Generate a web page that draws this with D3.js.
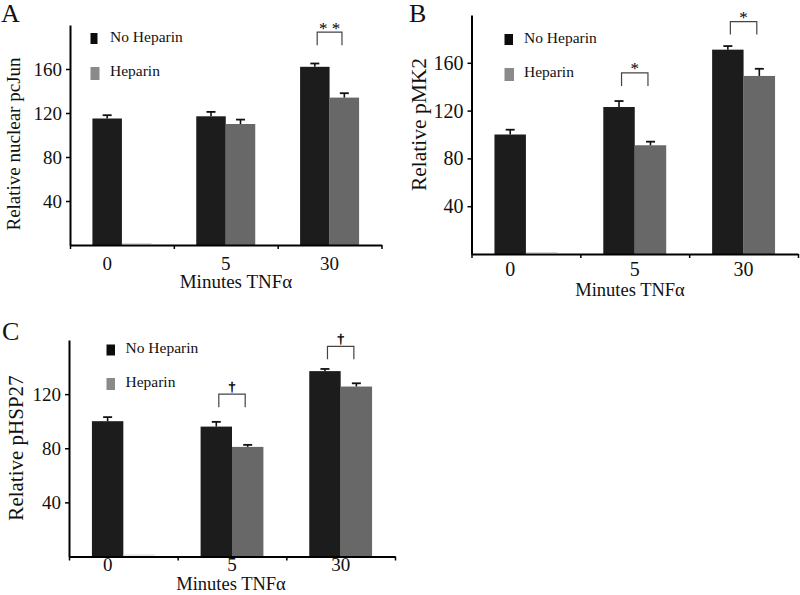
<!DOCTYPE html>
<html>
<head>
<meta charset="utf-8">
<script src="https://cdn.jsdelivr.net/npm/d3@7"></script>
<style>
  html, body { margin: 0; padding: 0; background: #fff; }
  svg { display: block; }
  text { font-family: "Liberation Serif", "Times New Roman", serif; fill: #111; }
</style>
</head>
<body>
<svg id="chart" width="800" height="595"></svg>
<script>
// ---------- data ----------
const categories = ["0", "5", "30"];
const seriesNames = ["No Heparin", "Heparin"];

// Panel A: Relative nuclear pcJun
const aNoHeparin = [115, 117, 162];
const aNoHeparinErr = [3, 4, 3];
const aHeparin = [null, 110, 134];
const aHeparinErr = [null, 4, 4];
const aSig = [{cat: "30", symbol: "* *", top: 193.5}];

// Panel B: Relative pMK2
const bNoHeparin = [100, 123, 171];
const bNoHeparinErr = [4, 5, 3];
const bHeparin = [null, 91, 149];
const bHeparinErr = [null, 3, 6];
const bSig = [{cat: "5", symbol: "*", top: 151.5}, {cat: "30", symbol: "*", top: 194.5}];

// Panel C: Relative pHSP27
const cNoHeparin = [100, 96, 137];
const cNoHeparinErr = [3, 3.5, 1.6];
const cHeparin = [null, 81, 125.6];
const cHeparinErr = [null, 1.5, 2.4];
const cSig = [{cat: "5", symbol: "†", top: 120}, {cat: "30", symbol: "†", top: 155.3}];

const yTicksAB = [40, 80, 120, 160];
const yTicksC = [40, 80, 120];

// ---------- layout ----------
const panels = [
  { letter: "A", ylabel: "Relative nuclear pcJun", yMax: 200, ticks: yTicksAB,
    no: aNoHeparin, noErr: aNoHeparinErr, hep: aHeparin, hepErr: aHeparinErr, sig: aSig,
    x0: 70, x1: 381.5, yBase: 245, yTop: 25, pad: 0.76,
    letterPos: [1, 22], ylabPos: [20, 144], ylabSize: 19, tickSize: 19,
    xlabBase: 270, xtitle: [236, 288], xtitleSize: 19,
    legX: 90.5, legText: 110, legY1: 33, legY2: 67, legSq: [7, 11, 9, 13] },
  { letter: "B", ylabel: "Relative pMK2", yMax: 200, ticks: yTicksAB,
    no: bNoHeparin, noErr: bNoHeparinErr, hep: bHeparin, hepErr: bHeparinErr, sig: bSig,
    x0: 471.5, x1: 798, yBase: 254, yTop: 15, pad: 0.73,
    letterPos: [409, 22], ylabPos: [426, 124.5], ylabSize: 21.5, tickSize: 20,
    xlabBase: 276, xtitle: [630, 296], xtitleSize: 18.5,
    legX: 504.5, legText: 524, legY1: 34, legY2: 68, legSq: [8.5, 11, 9.5, 13] },
  { letter: "C", ylabel: "Relative pHSP27", yMax: 160, ticks: yTicksC,
    no: cNoHeparin, noErr: cNoHeparinErr, hep: cHeparin, hepErr: cHeparinErr, sig: cSig,
    x0: 69, x1: 395, yBase: 556.5, yTop: 340, pad: 0.73,
    letterPos: [2, 340], ylabPos: [22.5, 448], ylabSize: 21, tickSize: 19,
    xlabBase: 571, xtitle: [231, 590], xtitleSize: 18.5,
    legX: 106.5, legText: 125.5, legY1: 344.5, legY2: 378, legSq: [8.5, 11, 8.5, 12] }
];

const BLACK = "#1c1c1c", GRAY = "#686868";
const LEG_BLACK = "#0c0c0c", LEG_GRAY = "#8a8a8a";

const svg = d3.select("#chart");

panels.forEach(p => {
  const g = svg.append("g");
  const xBand = d3.scaleBand().domain(categories).range([p.x0, p.x1]).padding(0);
  const xSub = d3.scaleBand().domain(seriesNames).range([0, xBand.bandwidth()])
    .paddingInner(0).paddingOuter(p.pad);
  const y = d3.scaleLinear().domain([0, p.yMax]).range([p.yBase, p.yTop]);

  const rows = categories.map((c, i) => ({
    cat: c,
    vals: [
      {s: seriesNames[0], v: p.no[i], e: p.noErr[i]},
      {s: seriesNames[1], v: p.hep[i], e: p.hepErr[i]}
    ]
  }));

  // bars
  rows.forEach(r => {
    r.vals.forEach(d => {
      const bx = xBand(r.cat) + xSub(d.s);
      const bw = xSub.bandwidth();
      if (d.v == null) {
        g.append("line")
          .attr("x1", bx).attr("x2", bx + bw)
          .attr("y1", y(0) - 1.5).attr("y2", y(0) - 1.5)
          .attr("stroke", "#d6d6d6").attr("stroke-width", 1);
        return;
      }
      g.append("rect")
        .attr("x", bx).attr("y", y(d.v))
        .attr("width", bw).attr("height", y(0) - y(d.v))
        .attr("fill", d.s === seriesNames[0] ? BLACK : GRAY);
      // error bar (upper half)
      const cx = bx + bw / 2;
      g.append("line")
        .attr("x1", cx).attr("x2", cx)
        .attr("y1", y(d.v)).attr("y2", y(d.v + d.e))
        .attr("stroke", "#111").attr("stroke-width", 1.6);
      g.append("line")
        .attr("x1", cx - 4.5).attr("x2", cx + 4.5)
        .attr("y1", y(d.v + d.e)).attr("y2", y(d.v + d.e))
        .attr("stroke", "#111").attr("stroke-width", 1.8);
    });
  });

  // y axis
  const yAxis = d3.axisLeft(y).tickValues(p.ticks).tickSize(4).tickSizeOuter(0).tickPadding(4);
  const ya = g.append("g").attr("transform", `translate(${p.x0},0)`).call(yAxis);
  ya.select(".domain").attr("stroke", "#000").attr("stroke-width", 2);
  ya.selectAll(".tick line").attr("stroke", "#000").attr("stroke-width", 1.5);
  ya.selectAll(".tick text")
    .style("font-family", '"Liberation Serif", "Times New Roman", serif')
    .style("font-size", p.tickSize + "px").attr("fill", "#111");

  // x axis (ticks at band boundaries)
  const xLin = d3.scaleLinear().domain([0, categories.length]).range([p.x0, p.x1]);
  const xAxis = d3.axisBottom(xLin).tickValues(d3.range(categories.length + 1))
    .tickFormat("").tickSize(4).tickSizeOuter(0);
  const xa = g.append("g").attr("transform", `translate(0,${p.yBase})`).call(xAxis);
  xa.select(".domain").attr("stroke", "#000").attr("stroke-width", 2);
  xa.selectAll(".tick line").attr("stroke", "#000").attr("stroke-width", 1.5);

  // category labels: centered on the bars present
  rows.forEach(r => {
    const present = r.vals.filter(d => d.v != null);
    const xs = present.map(d => xBand(r.cat) + xSub(d.s) + xSub.bandwidth() / 2);
    const cx = d3.mean(xs);
    g.append("text").attr("x", cx).attr("y", p.xlabBase)
      .attr("text-anchor", "middle").style("font-size", p.tickSize + "px").text(r.cat);
  });

  // x title
  g.append("text").attr("x", p.xtitle[0]).attr("y", p.xtitle[1])
    .attr("text-anchor", "middle").style("font-size", p.xtitleSize + "px")
    .text("Minutes TNFα");

  // y title
  g.append("text")
    .attr("transform", `translate(${p.ylabPos[0]},${p.ylabPos[1]}) rotate(-90)`)
    .attr("text-anchor", "middle").style("font-size", p.ylabSize + "px")
    .text(p.ylabel);

  // panel letter
  g.append("text").attr("x", p.letterPos[0]).attr("y", p.letterPos[1])
    .style("font-size", "26px").text(p.letter);

  // legend
  g.append("rect").attr("x", p.legX).attr("y", p.legY1)
    .attr("width", p.legSq[0]).attr("height", p.legSq[1]).attr("fill", LEG_BLACK);
  g.append("text").attr("x", p.legText).attr("y", p.legY1 + 8.5)
    .style("font-size", "15.5px").text(seriesNames[0]);
  g.append("rect").attr("x", p.legX).attr("y", p.legY2)
    .attr("width", p.legSq[2]).attr("height", p.legSq[3]).attr("fill", LEG_GRAY);
  g.append("text").attr("x", p.legText).attr("y", p.legY2 + 9)
    .style("font-size", "15.5px").text(seriesNames[1]);

  // significance brackets
  p.sig.forEach(s => {
    const bw = xSub.bandwidth();
    const xa1 = xBand(s.cat) + xSub(seriesNames[0]) + bw * 0.58;
    const xa2 = xBand(s.cat) + xSub(seriesNames[1]) + bw * 0.42;
    const yt = y(s.top);
    g.append("path")
      .attr("d", `M${xa1},${yt + 13}V${yt}H${xa2}V${yt + 13}`)
      .attr("fill", "none").attr("stroke", "#444").attr("stroke-width", 1.2);
    const isDagger = s.symbol === "†";
    g.append("text").attr("x", (xa1 + xa2) / 2)
      .attr("y", isDagger ? yt - 3 : yt + 1.5)
      .attr("text-anchor", "middle")
      .style("font-size", isDagger ? "13px" : "17px")
      .style("fill", "#000")
      .attr("stroke", "#000").attr("stroke-width", isDagger ? 0.5 : 0)
      .text(s.symbol);
  });
});
</script>
</body>
</html>
